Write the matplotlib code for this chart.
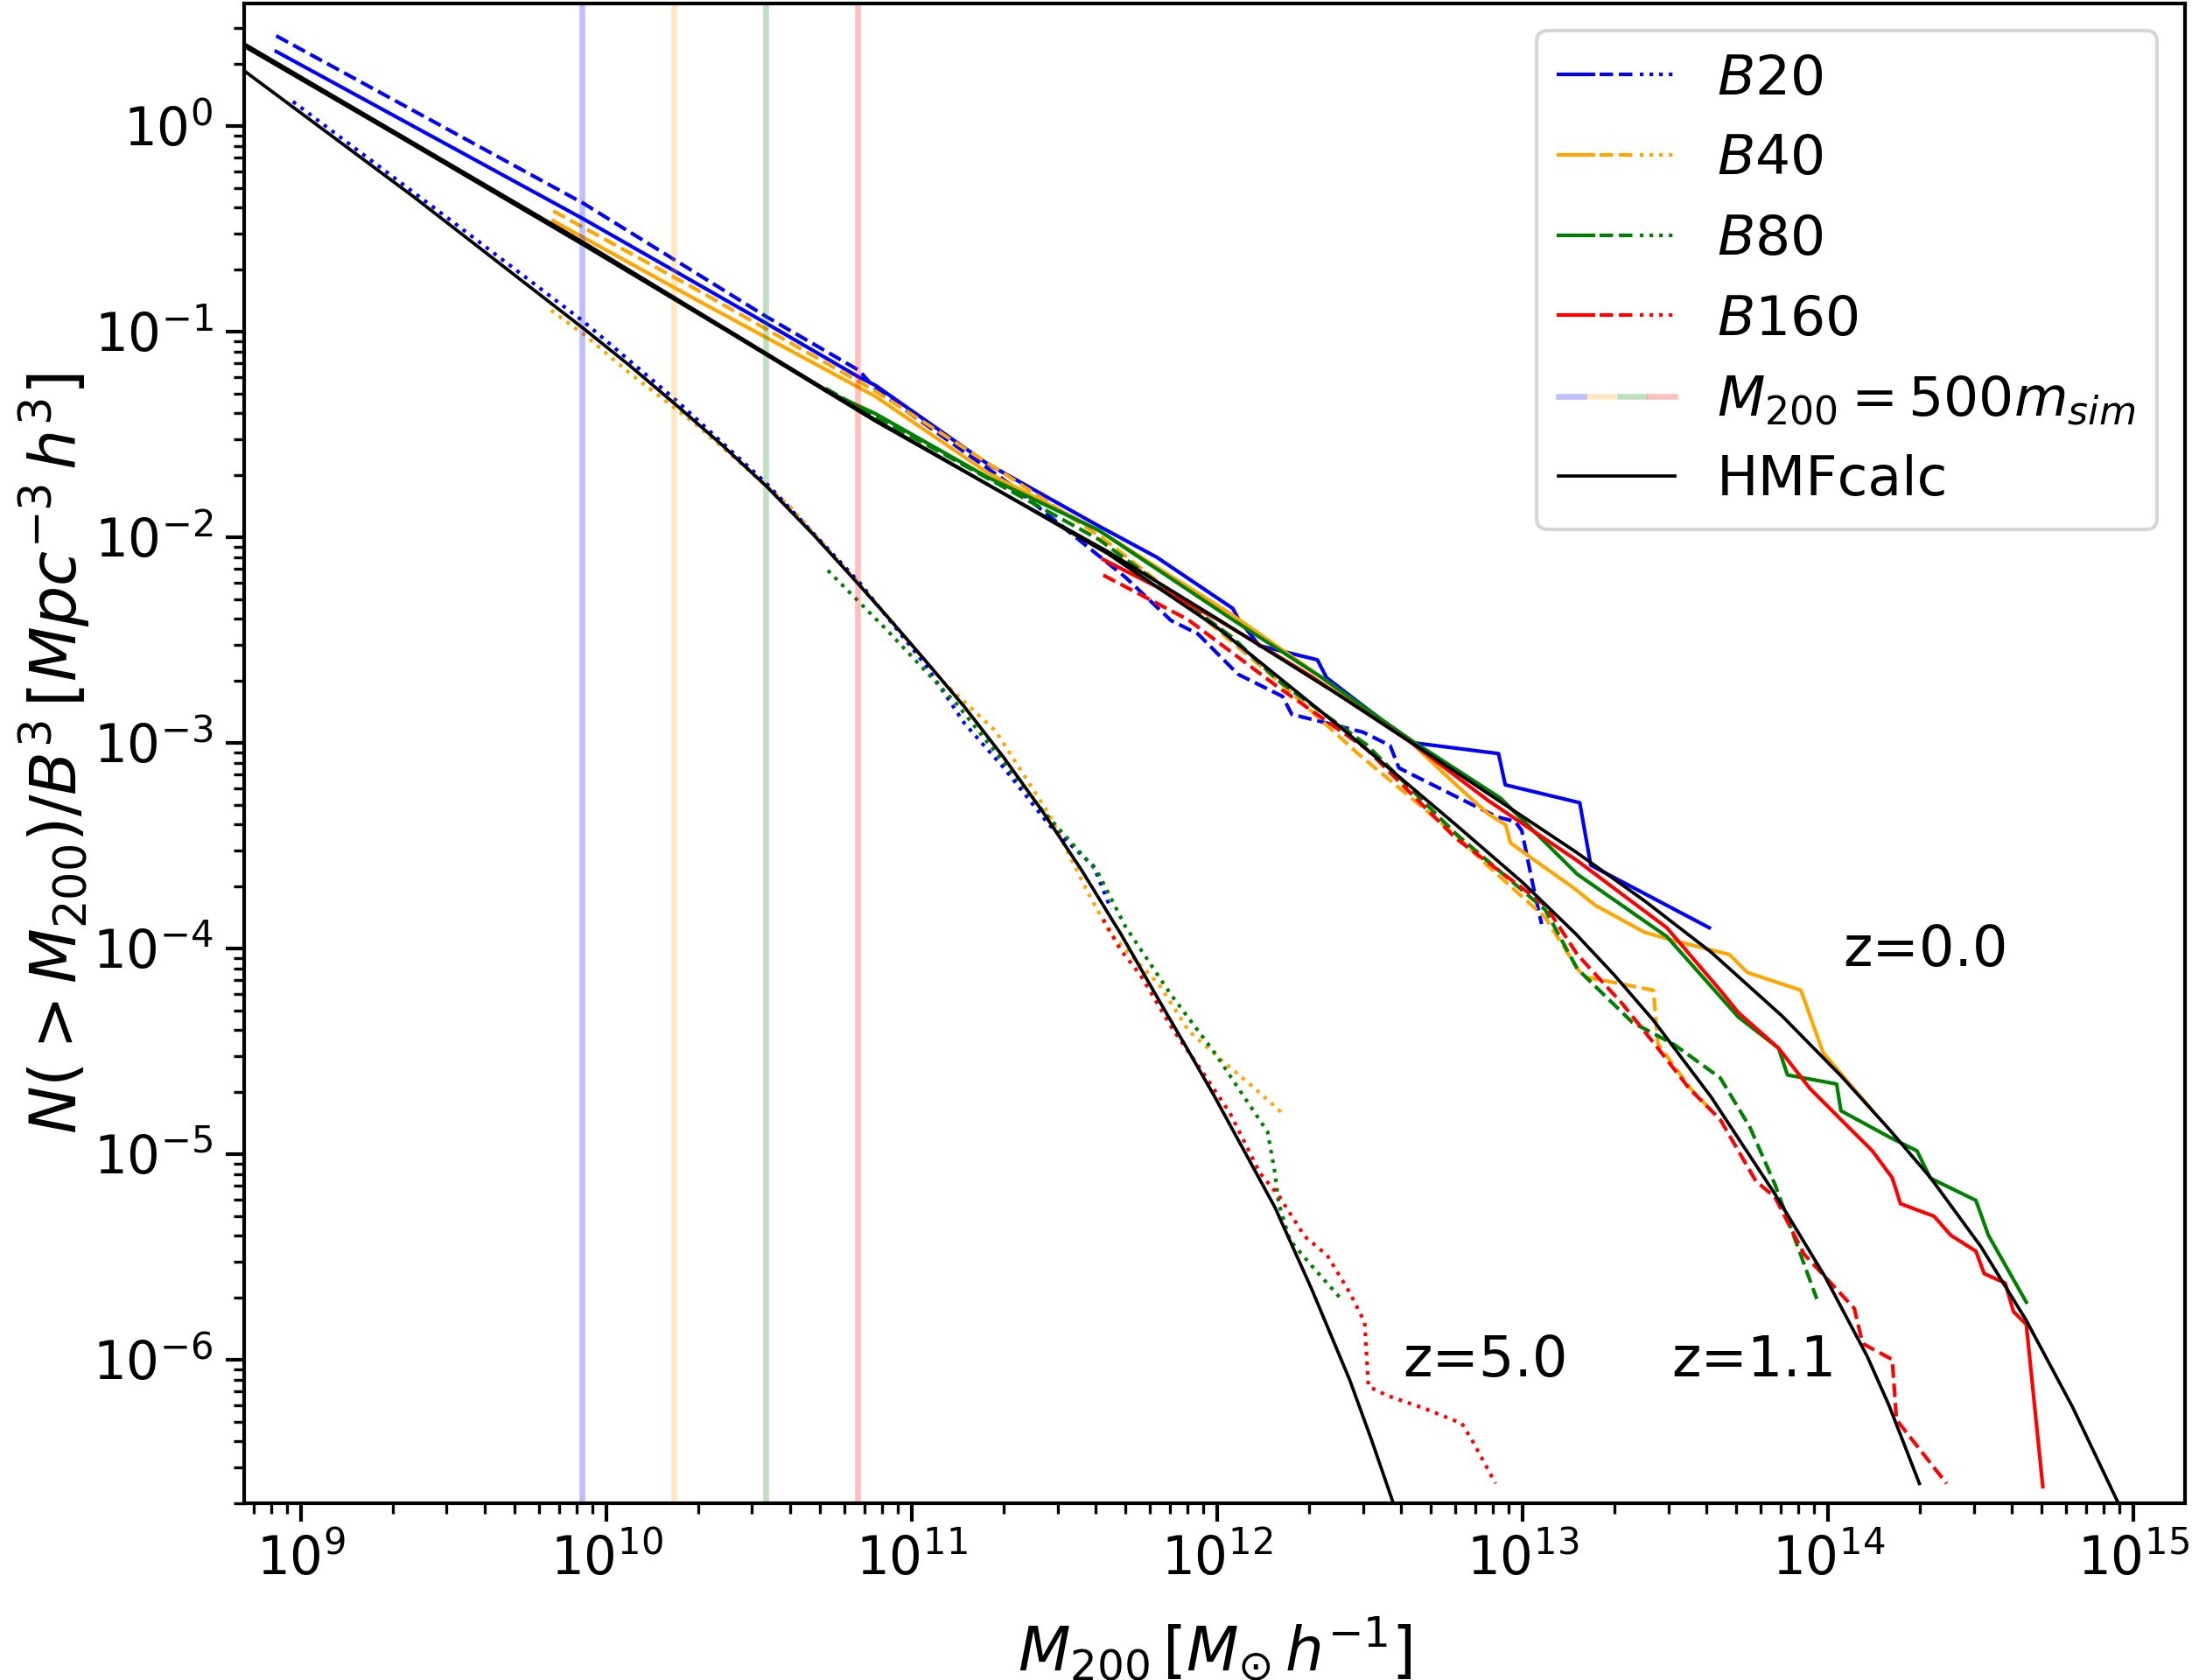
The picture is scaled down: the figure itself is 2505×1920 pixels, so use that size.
import numpy as np
import matplotlib
matplotlib.use("Agg")
import matplotlib.pyplot as plt
from matplotlib.legend_handler import HandlerTuple

# all values are log10(M200) and log10(N(>M200)/B^3)

# HMFcalc curves
hmf_z0_m = [8.814, 9.3, 9.924, 10.4, 10.881, 11.25, 11.641, 12.0, 12.4, 12.635, 12.9, 13.174,
            13.4, 13.618, 13.85, 14.042, 14.2, 14.335, 14.5, 14.649, 14.8, 14.97]
hmf_z0_n = [0.387, -0.033, -0.578, -1.002, -1.436, -1.746, -2.07, -2.397, -2.77, -2.999, -3.26, -3.531,
            -3.77, -4.02, -4.33, -4.62, -4.88, -5.115, -5.45, -5.81, -6.23, -6.76]
hmf_z1_m = [8.814, 9.924, 10.4, 10.881, 11.25, 11.641, 12.0, 12.402, 12.782, 13.0, 13.174, 13.3,
            13.428, 13.618, 13.826, 13.99, 14.128, 14.2, 14.299]
hmf_z1_n = [0.399, -0.566, -0.995, -1.43, -1.745, -2.08, -2.44, -2.923, -3.40, -3.68, -3.93, -4.13,
            -4.35, -4.725, -5.195, -5.597, -5.984, -6.225, -6.603]
hmf_z5_m = [8.814, 9.37, 9.924, 10.075, 10.225, 10.375, 10.525, 10.676, 10.828, 10.936, 11.044,
            11.172, 11.3, 11.428, 11.556, 11.684, 11.812, 11.9, 11.991, 12.09, 12.189, 12.31,
            12.434, 12.505, 12.6]
hmf_z5_n = [0.268, -0.346, -0.984, -1.164, -1.353, -1.547, -1.754, -1.985, -2.233, -2.414, -2.60,
            -2.825, -3.07, -3.334, -3.62, -3.929, -4.26, -4.484, -4.72, -4.99, -5.26, -5.66,
            -6.10, -6.39, -6.80]

# B20
b20_z0_m = [8.919, 9.924, 10.5, 10.828, 10.881, 11.246, 11.612, 11.802, 12.051, 12.07, 12.138, 12.328,
            12.358, 12.635, 12.921, 12.943, 13.187, 13.223, 13.611]
b20_z0_n = [0.362, -0.452, -0.94, -1.223, -1.262, -1.642, -1.946, -2.098, -2.347, -2.40, -2.528, -2.597,
            -2.684, -2.999, -3.053, -3.205, -3.292, -3.596, -3.90]
b20_z1_m = [8.919, 9.924, 10.525, 10.828, 10.881, 11.319, 11.7, 11.849, 11.937, 12.068, 12.214, 12.244,
            12.478, 12.566, 12.595, 12.77, 12.916, 12.975, 12.997, 13.033, 13.062]
b20_z1_n = [0.438, -0.376, -0.929, -1.19, -1.28, -1.74, -2.196, -2.406, -2.471, -2.667, -2.775, -2.862,
            -2.949, -3.014, -3.123, -3.253, -3.361, -3.383, -3.427, -3.687, -3.882]
b20_z5_m = [8.974, 9.5, 9.924, 10.225, 10.525, 10.828, 11.044, 11.173, 11.3, 11.45, 11.595, 11.652]
b20_z5_n = [0.118, -0.47, -0.95, -1.33, -1.74, -2.22, -2.62, -2.907, -3.12, -3.40, -3.60, -3.809]

# B40
b40_z0_m = [9.826, 10.3, 10.881, 11.246, 11.612, 12.051, 12.343, 12.635, 12.782, 12.887, 12.945, 12.96,
            13.062, 13.165, 13.238, 13.399, 13.501, 13.677, 13.735, 13.911, 13.984, 14.146]
b40_z0_n = [-0.462, -0.85, -1.316, -1.685, -1.967, -2.38, -2.684, -2.999, -3.205, -3.346, -3.40, -3.487,
            -3.596, -3.704, -3.791, -3.922, -3.965, -4.03, -4.117, -4.204, -4.508, -4.79]
b40_z1_m = [9.826, 10.3, 10.881, 11.319, 11.62, 11.904, 12.2, 12.46, 12.782, 12.887, 13.074, 13.18,
            13.201, 13.428, 13.443, 13.551, 13.62]
b40_z1_n = [-0.414, -0.80, -1.29, -1.707, -2.0, -2.33, -2.70, -3.052, -3.45, -3.6, -3.85, -4.10,
            -4.138, -4.204, -4.465, -4.684, -4.793]
b40_z5_m = [9.819, 9.929, 10.075, 10.3, 10.6, 10.9, 11.1, 11.275, 11.45, 11.575, 11.65, 11.809,
            11.907, 12.017, 12.103, 12.214]
b40_z5_n = [-0.897, -1.017, -1.201, -1.46, -1.85, -2.35, -2.70, -2.944, -3.35, -3.724, -3.929, -4.175,
            -4.402, -4.547, -4.656, -4.802]

# B80
b80_z0_m = [10.718, 10.881, 11.246, 11.612, 12.051, 12.343, 12.635, 12.928, 13.179, 13.472, 13.706,
            13.838, 13.867, 14.028, 14.042, 14.203, 14.291, 14.335, 14.484, 14.525, 14.649]
b80_z0_n = [-1.288, -1.400, -1.707, -1.967, -2.402, -2.684, -2.988, -3.27, -3.64, -3.943, -4.334,
            -4.486, -4.616, -4.66, -4.79, -4.92, -4.985, -5.118, -5.226, -5.396, -5.721]
b80_z1_m = [10.718, 10.881, 11.612, 12.051, 12.197, 12.489, 12.782, 13.074, 13.179, 13.359, 13.496,
            13.647, 13.744, 13.826, 13.963]
b80_z1_n = [-1.277, -1.414, -2.011, -2.489, -2.695, -3.01, -3.444, -3.813, -4.1, -4.36, -4.468,
            -4.63, -4.87, -5.148, -5.705]
b80_z5_m = [10.725, 10.917, 11.147, 11.428, 11.608, 11.699, 11.846, 11.993, 12.091, 12.165, 12.189,
            12.201, 12.238, 12.311, 12.409]
b80_z5_n = [-2.162, -2.45, -2.812, -3.33, -3.628, -3.893, -4.22, -4.511, -4.729, -4.893, -5.093,
            -5.239, -5.42, -5.547, -5.711]

# B160
b160_z0_m = [11.627, 11.8, 12.0, 12.3, 12.635, 12.887, 13.179, 13.472, 13.647, 13.706, 13.838, 13.94,
             14.057, 14.145, 14.21, 14.237, 14.347, 14.402, 14.484, 14.511, 14.58, 14.607, 14.649, 14.703]
b160_z0_n = [-2.109, -2.24, -2.40, -2.67, -2.999, -3.281, -3.574, -3.9, -4.204, -4.312, -4.486, -4.681,
             -4.855, -4.985, -5.116, -5.242, -5.303, -5.396, -5.473, -5.582, -5.628, -5.767, -5.829, -6.618]
b160_z1_m = [11.627, 11.905, 12.197, 12.489, 12.782, 13.074, 13.179, 13.326, 13.443, 13.545, 13.647,
             13.764, 13.826, 13.922, 13.99, 14.086, 14.113, 14.21, 14.224, 14.388]
b160_z1_n = [-2.185, -2.402, -2.727, -3.031, -3.466, -3.791, -4.03, -4.269, -4.486, -4.681, -4.833,
             -5.133, -5.21, -5.489, -5.597, -5.752, -5.922, -6.0, -6.293, -6.603]
b160_z5_m = [11.627, 11.684, 11.748, 11.858, 11.944, 12.042, 12.14, 12.201, 12.287, 12.36, 12.434,
             12.483, 12.495, 12.556, 12.679, 12.801, 12.838, 12.911]
b160_z5_n = [-3.86, -4.008, -4.129, -4.402, -4.584, -4.802, -5.093, -5.202, -5.402, -5.493, -5.675,
             -5.82, -6.13, -6.175, -6.238, -6.311, -6.402, -6.602]

boxes = ["$B20$", "$B40$", "$B80$", "$B160$"]
colors = ["blue", "orange", "green", "red"]
m_sim = [1.666e7, 3.332e7, 6.664e7, 1.3328e8]  # particle masses, lines drawn at 500 m_sim

z_labels = ["z=0.0", "z=1.1", "z=5.0"]
z_label_m = [1.12e14, 3.07e13, 4.05e12]
z_label_n = [9.75e-5, 9.9e-7, 9.9e-7]

sims = [
    [(b20_z0_m, b20_z0_n), (b20_z1_m, b20_z1_n), (b20_z5_m, b20_z5_n)],
    [(b40_z0_m, b40_z0_n), (b40_z1_m, b40_z1_n), (b40_z5_m, b40_z5_n)],
    [(b80_z0_m, b80_z0_n), (b80_z1_m, b80_z1_n), (b80_z5_m, b80_z5_n)],
    [(b160_z0_m, b160_z0_n), (b160_z1_m, b160_z1_n), (b160_z5_m, b160_z5_n)],
]
styles = ["-", "--", ":"]

fig = plt.figure(figsize=(8.35, 6.4), dpi=300)
ax = fig.add_axes([0.1114, 0.1052, 0.8854, 0.8929])

handles = []
for c, runs in zip(colors, sims):
    hs = []
    for (m, n), ls in zip(runs, styles):
        h, = ax.plot(10**np.array(m), 10**np.array(n), color=c, ls=ls, lw=1.0)
        hs.append(h)
    handles.append(tuple(hs))

vl = []
for c, ms in zip(colors, m_sim):
    v = ax.axvline(500*ms, color=c, alpha=0.25, lw=1.6)
    vl.append(v)

for m, n in [(hmf_z0_m, hmf_z0_n), (hmf_z1_m, hmf_z1_n), (hmf_z5_m, hmf_z5_n)]:
    hk, = ax.plot(10**np.array(m), 10**np.array(n), color="black", lw=0.9)

for t, x, y in zip(z_labels, z_label_m, z_label_n):
    ax.text(x, y, t, fontsize=15.3, ha="left", va="center")

ax.set_xscale("log")
ax.set_yscale("log")
ax.set_xlim(6.52e8, 1.474e15)
ax.set_ylim(2.0e-7, 3.95)

ax.set_xlabel(r"$M_{200}\,[M_{\odot}\,h^{-1}]$", fontsize=16.6, labelpad=8)
ax.set_ylabel(r"$N(>M_{200})/B^3\,[Mpc^{-3}\,h^3]$", fontsize=17.5, labelpad=0)
ax.tick_params(which="major", length=5, width=1, labelsize=14.3)
ax.tick_params(which="minor", length=2.9, width=0.8)
for s in ax.spines.values():
    s.set_linewidth(1)

leg = ax.legend(handles + [tuple(vl), hk],
                boxes + [r"$M_{200} = 500m_{sim}$", "HMFcalc"],
                handler_map={tuple: HandlerTuple(ndivide=None, pad=0.1)},
                loc="upper right", fontsize=15.2, handlelength=2.09, handletextpad=0.76)

fig.savefig("out.png", dpi=300)
